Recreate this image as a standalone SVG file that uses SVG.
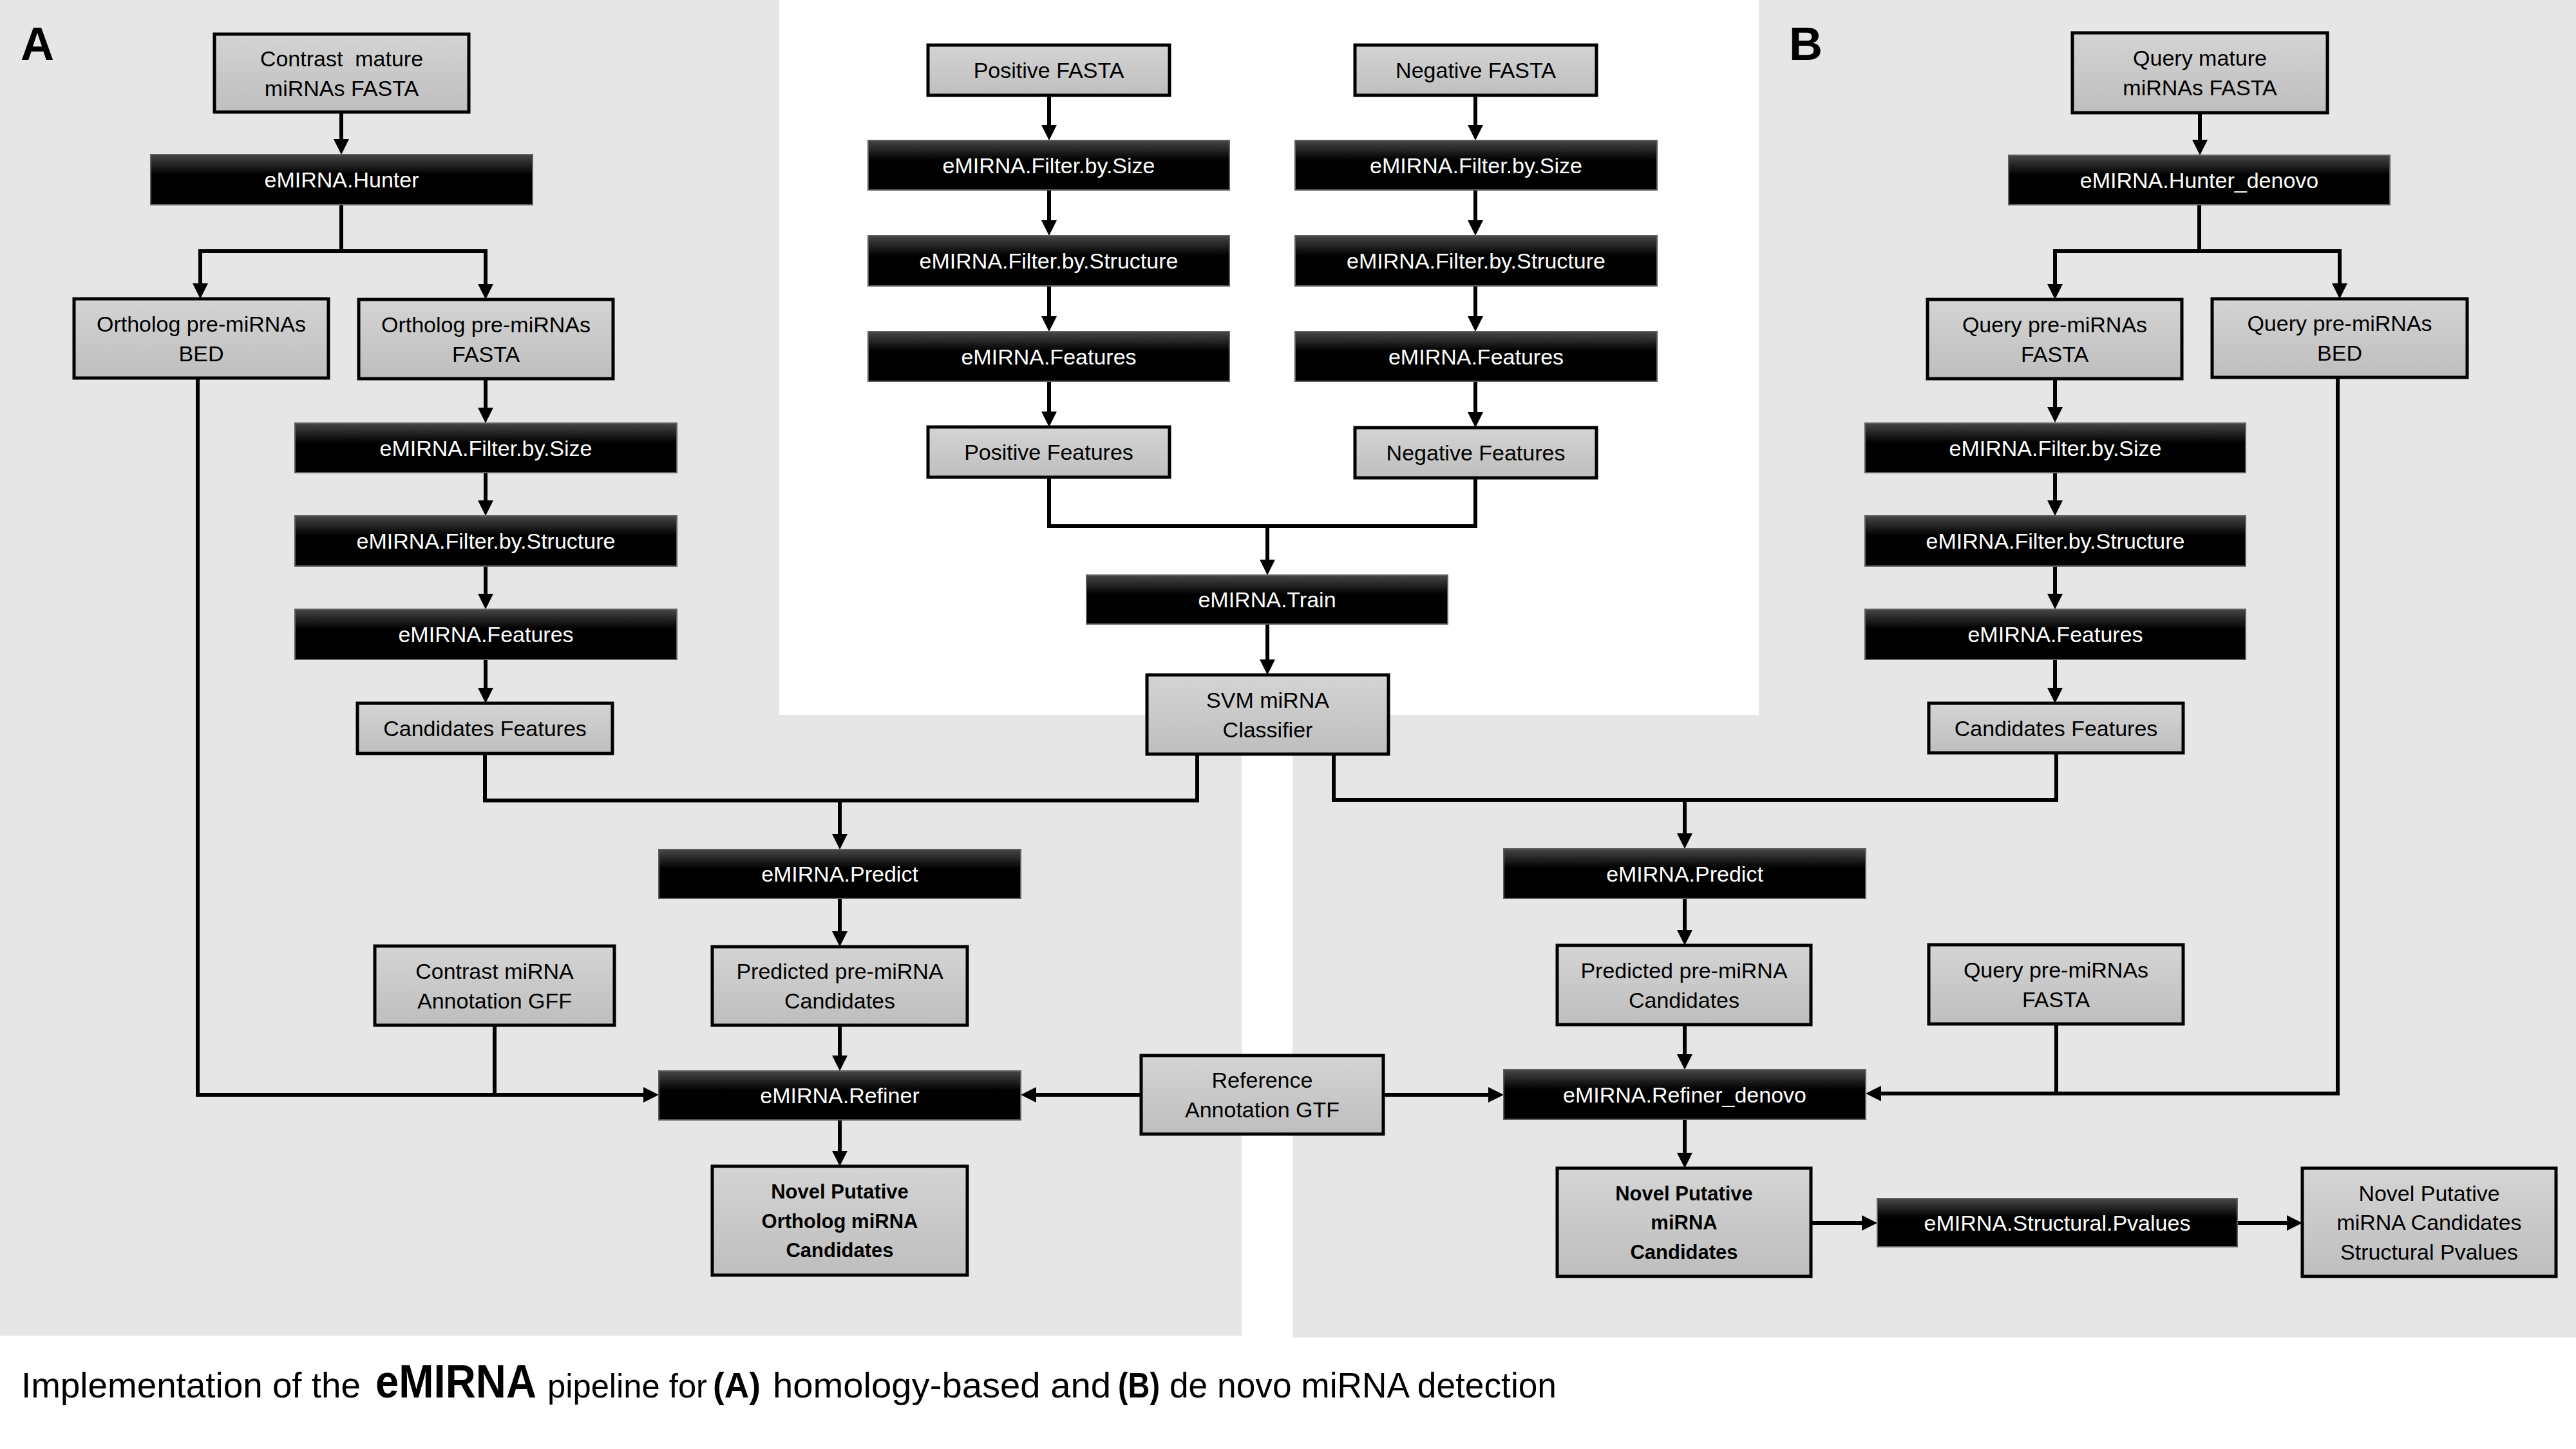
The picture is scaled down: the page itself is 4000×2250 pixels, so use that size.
<svg xmlns="http://www.w3.org/2000/svg" width="4000" height="2250" viewBox="0 0 4000 2250">
<defs>
<linearGradient id="gg" x1="0" y1="0" x2="0" y2="1"><stop offset="0" stop-color="#d4d4d4"/><stop offset="1" stop-color="#bebebe"/></linearGradient>
<linearGradient id="bg" x1="0" y1="0" x2="0" y2="1"><stop offset="0" stop-color="#474747"/><stop offset="0.4" stop-color="#000"/><stop offset="1" stop-color="#000"/></linearGradient>
<marker id="ar" markerUnits="userSpaceOnUse" markerWidth="24" markerHeight="24" refX="18" refY="12" orient="auto" viewBox="0 0 24 24"><path d="M0,0 L24,12 L0,24 z" fill="#000"/></marker>
</defs>
<style>
.g rect{fill:url(#gg);stroke:#000;stroke-width:5}
.b rect{fill:url(#bg);stroke:#606060;stroke-width:2}
text{font-family:"Liberation Sans",Arial,sans-serif;font-size:34px;text-anchor:middle}
.g text{fill:#000}
.b text{fill:#fff}
.bold text{font-weight:bold;font-size:31px}
#conn path{fill:none;stroke:#000;stroke-width:6}
#conn path.a{marker-end:url(#ar)}
#caption text{text-anchor:start;font-size:56px}
#caption .bd{font-weight:bold}
</style>
<rect width="4000" height="2250" fill="#fff"/>
<path d="M0,0 H1210 V1110 H1928 V2074 H0 z" fill="#e6e6e6"/>
<path d="M2731,0 H4000 V2077 H2007 V1110 H2731 z" fill="#e6e6e6"/>
<text x="32" y="93" style="font-size:72px;font-weight:bold;text-anchor:start">A</text>
<text x="2778" y="93" style="font-size:72px;font-weight:bold;text-anchor:start">B</text>

<g id="conn">
<path class="a" d="M530,175 V234"/>
<path d="M530,318 V390"/>
<path class="a" d="M530,390 H311 V458"/>
<path class="a" d="M530,390 H754 V459"/>
<path class="a" d="M754,588 V651"/>
<path class="a" d="M754,734 V795"/>
<path class="a" d="M754,879 V940"/>
<path class="a" d="M754,1024 V1086"/>
<path d="M753,1170 V1243 H1859 V1171"/>
<path class="a" d="M1304,1243 V1313"/>
<path class="a" d="M1304,1395 V1464"/>
<path class="a" d="M1304,1592 V1657"/>
<path class="a" d="M1304,1739 V1805"/>
<path class="a" d="M307,587 V1700 H1017"/>
<path d="M768,1592 V1700"/>
<path class="a" d="M1772,1700 H1591"/>
<path class="a" d="M1629,148 V212"/>
<path class="a" d="M1629,295 V360"/>
<path class="a" d="M1629,444 V509"/>
<path class="a" d="M1629,592 V657"/>
<path class="a" d="M2291,148 V212"/>
<path class="a" d="M2291,295 V360"/>
<path class="a" d="M2291,444 V509"/>
<path class="a" d="M2291,592 V658"/>
<path d="M1629,741 V817 H2291 V742"/>
<path class="a" d="M1968,817 V887"/>
<path class="a" d="M1968,969 V1042"/>
<path class="a" d="M3416,175 V235"/>
<path d="M3415,318 V390"/>
<path class="a" d="M3415,390 H3191 V459"/>
<path class="a" d="M3415,390 H3633 V458"/>
<path class="a" d="M3191,588 V650"/>
<path class="a" d="M3191,734 V795"/>
<path class="a" d="M3191,879 V940"/>
<path class="a" d="M3191,1024 V1086"/>
<path d="M3193,1169 V1242 H2071 V1171"/>
<path class="a" d="M2616,1242 V1312"/>
<path class="a" d="M2616,1395 V1462"/>
<path class="a" d="M2616,1591 V1655"/>
<path class="a" d="M2616,1738 V1808"/>
<path class="a" d="M3630,586 V1698 H2903"/>
<path d="M3193,1590 V1698"/>
<path class="a" d="M2148,1700 H2329"/>
<path class="a" d="M2812,1899 H2909"/>
<path class="a" d="M3474,1899 H3569"/>
</g>

<g id="contrast_mature" class="g"><rect x="333" y="53" width="395" height="121"/><text x="530.5" y="102.5" style="white-space:pre">Contrast  mature</text><text x="530.5" y="148.5">miRNAs FASTA</text></g>
<g id="hunter" class="b"><rect x="234" y="240" width="593" height="78"/><text x="530.5" y="291">eMIRNA.Hunter</text></g>
<g id="ortholog_bed" class="g"><rect x="115" y="464" width="395" height="123"/><text x="312.5" y="514.5">Ortholog pre-miRNAs</text><text x="312.5" y="560.5">BED</text></g>
<g id="ortholog_fasta" class="g"><rect x="557" y="465" width="395" height="123"/><text x="754.5" y="515.5">Ortholog pre-miRNAs</text><text x="754.5" y="561.5">FASTA</text></g>
<g id="size_A" class="b"><rect x="458" y="657" width="593" height="77"/><text x="754.5" y="707.5">eMIRNA.Filter.by.Size</text></g>
<g id="struct_A" class="b"><rect x="458" y="801" width="593" height="78"/><text x="754.5" y="852">eMIRNA.Filter.by.Structure</text></g>
<g id="feat_A" class="b"><rect x="458" y="946" width="593" height="78"/><text x="754.5" y="997">eMIRNA.Features</text></g>
<g id="candf_A" class="g"><rect x="555" y="1092" width="396" height="78"/><text x="753" y="1143">Candidates Features</text></g>
<g id="predict_A" class="b"><rect x="1023" y="1319" width="562" height="76"/><text x="1304" y="1369">eMIRNA.Predict</text></g>
<g id="predicted_A" class="g"><rect x="1106" y="1470" width="396" height="122"/><text x="1304" y="1520">Predicted pre-miRNA</text><text x="1304" y="1566">Candidates</text></g>
<g id="gff" class="g"><rect x="582" y="1469" width="372" height="123"/><text x="768" y="1519.5">Contrast miRNA</text><text x="768" y="1565.5">Annotation GFF</text></g>
<g id="refiner_A" class="b"><rect x="1023" y="1663" width="562" height="76"/><text x="1304" y="1713">eMIRNA.Refiner</text></g>
<g id="novel_A" class="g bold"><rect x="1106" y="1811" width="396" height="169"/><text x="1304" y="1861">Novel Putative</text><text x="1304" y="1906.5">Ortholog miRNA</text><text x="1304" y="1952">Candidates</text></g>

<g id="pos_fasta" class="g"><rect x="1441" y="70" width="375" height="78"/><text x="1628.5" y="121">Positive FASTA</text></g>
<g id="neg_fasta" class="g"><rect x="2104" y="70" width="375" height="78"/><text x="2291.5" y="121">Negative FASTA</text></g>
<g id="pos_size" class="b"><rect x="1348" y="218" width="561" height="77"/><text x="1628.5" y="268.5">eMIRNA.Filter.by.Size</text></g>
<g id="neg_size" class="b"><rect x="2011" y="218" width="562" height="77"/><text x="2292" y="268.5">eMIRNA.Filter.by.Size</text></g>
<g id="pos_struct" class="b"><rect x="1348" y="366" width="561" height="78"/><text x="1628.5" y="417">eMIRNA.Filter.by.Structure</text></g>
<g id="neg_struct" class="b"><rect x="2011" y="366" width="562" height="78"/><text x="2292" y="417">eMIRNA.Filter.by.Structure</text></g>
<g id="pos_feat" class="b"><rect x="1348" y="515" width="561" height="77"/><text x="1628.5" y="565.5">eMIRNA.Features</text></g>
<g id="neg_feat" class="b"><rect x="2011" y="515" width="562" height="77"/><text x="2292" y="565.5">eMIRNA.Features</text></g>
<g id="pos_features" class="g"><rect x="1441" y="663" width="375" height="78"/><text x="1628.5" y="714">Positive Features</text></g>
<g id="neg_features" class="g"><rect x="2104" y="664" width="375" height="78"/><text x="2291.5" y="715">Negative Features</text></g>
<g id="train" class="b"><rect x="1687" y="893" width="561" height="76"/><text x="1967.5" y="943">eMIRNA.Train</text></g>
<g id="svm" class="g"><rect x="1781" y="1048" width="375" height="123"/><text x="1968.5" y="1098.5">SVM miRNA</text><text x="1968.5" y="1144.5">Classifier</text></g>
<g id="reference" class="g"><rect x="1772" y="1639" width="376" height="122"/><text x="1960" y="1689">Reference</text><text x="1960" y="1735">Annotation GTF</text></g>

<g id="query_mature" class="g"><rect x="3218" y="51" width="396" height="124"/><text x="3416" y="102">Query mature</text><text x="3416" y="148">miRNAs FASTA</text></g>
<g id="hunter_denovo" class="b"><rect x="3119" y="241" width="592" height="77"/><text x="3415" y="291.5">eMIRNA.Hunter_denovo</text></g>
<g id="query_fasta" class="g"><rect x="2993" y="465" width="395" height="123"/><text x="3190.5" y="515.5">Query pre-miRNAs</text><text x="3190.5" y="561.5">FASTA</text></g>
<g id="query_bed" class="g"><rect x="3435" y="464" width="396" height="122"/><text x="3633" y="514">Query pre-miRNAs</text><text x="3633" y="560">BED</text></g>
<g id="size_B" class="b"><rect x="2896" y="657" width="591" height="77"/><text x="3191.5" y="707.5">eMIRNA.Filter.by.Size</text></g>
<g id="struct_B" class="b"><rect x="2896" y="801" width="591" height="78"/><text x="3191.5" y="852">eMIRNA.Filter.by.Structure</text></g>
<g id="feat_B" class="b"><rect x="2896" y="946" width="591" height="78"/><text x="3191.5" y="997">eMIRNA.Features</text></g>
<g id="candf_B" class="g"><rect x="2995" y="1092" width="395" height="77"/><text x="3192.5" y="1142.5">Candidates Features</text></g>
<g id="predict_B" class="b"><rect x="2335" y="1318" width="562" height="77"/><text x="2616" y="1368.5">eMIRNA.Predict</text></g>
<g id="predicted_B" class="g"><rect x="2418" y="1468" width="394" height="123"/><text x="2615" y="1518.5">Predicted pre-miRNA</text><text x="2615" y="1564.5">Candidates</text></g>
<g id="query_fasta2" class="g"><rect x="2995" y="1467" width="395" height="123"/><text x="3192.5" y="1517.5">Query pre-miRNAs</text><text x="3192.5" y="1563.5">FASTA</text></g>
<g id="refiner_B" class="b"><rect x="2335" y="1661" width="562" height="77"/><text x="2616" y="1711.5">eMIRNA.Refiner_denovo</text></g>
<g id="novel_B" class="g bold"><rect x="2418" y="1814" width="394" height="168"/><text x="2615" y="1863.5">Novel Putative</text><text x="2615" y="1909">miRNA</text><text x="2615" y="1954.5">Candidates</text></g>
<g id="pvalues" class="b"><rect x="2915" y="1861" width="559" height="75"/><text x="3194.5" y="1910.5">eMIRNA.Structural.Pvalues</text></g>
<g id="novel_pv" class="g"><rect x="3575" y="1814" width="394" height="168"/><text x="3772" y="1864.5">Novel Putative</text><text x="3772" y="1910">miRNA Candidates</text><text x="3772" y="1955.5">Structural Pvalues</text></g>

<g id="caption">
<text x="33" y="2170" textLength="527" lengthAdjust="spacingAndGlyphs">Implementation of the</text>
<text x="583" y="2170" class="bd" style="font-size:72px" textLength="250" lengthAdjust="spacingAndGlyphs">eMIRNA</text>
<text x="850" y="2170" style="font-size:52px" textLength="248" lengthAdjust="spacingAndGlyphs">pipeline for</text>
<text x="1107" y="2170" class="bd" textLength="74" lengthAdjust="spacingAndGlyphs">(A)</text>
<text x="1200" y="2170" textLength="525" lengthAdjust="spacingAndGlyphs">homology-based and</text>
<text x="1736" y="2170" class="bd" textLength="65" lengthAdjust="spacingAndGlyphs">(B)</text>
<text x="1816" y="2170" textLength="601" lengthAdjust="spacingAndGlyphs">de novo miRNA detection</text>
</g>
</svg>
